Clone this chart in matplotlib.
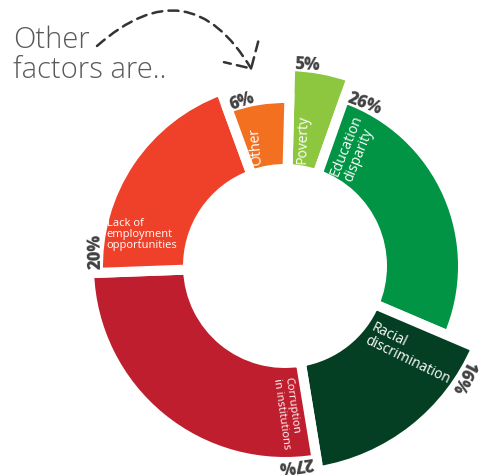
import numpy as np
import matplotlib.pyplot as plt
from matplotlib.patches import FancyArrowPatch

plt.rcParams['font.family'] = ['Open Sans', 'DejaVu Sans']

# data
categories = ['Poverty', 'Education\ndisparity', 'Racial\ndiscrimination',
              'Corruption\nin institutions', 'Lack of\nemployment\nopportunities', 'Other']
shares = [5, 26, 16, 27, 20, 6]

# styling / layout
colors = ['#8dc63f', '#009444', '#053f23', '#be1e2d', '#ef4129', '#f37021']
outer = [200, 178, 208, 196, 187, 168]   # outer radius of each piece (px)
inner = 97
start = 1.5                               # degrees clockwise from north

label_theta = [9.5, 33, 128.7, 181.5, 280, 344.5]
label_r = [104, 104, 108, 112, 181, 104]
label_rot = [88, 68, -26, -82, 0, 95]
label_size = [10, 10, 10, 8, 8, 10]
pct_shift = [1.2, 1.2, 4.0, 1.2, 1.2, 1.2]   # how far past the piece edge the % text starts

W, H = 480, 475
fig = plt.figure(figsize=(W / 100, H / 100), dpi=100)

# polar axes where one radial unit == one pixel
R = 230
cx, cy = 285, 266
ax = fig.add_axes([(cx - R) / W, (H - cy - R) / H, 2 * R / W, 2 * R / H], projection='polar')
ax.set_theta_zero_location('N')
ax.set_theta_direction(-1)
ax.set_ylim(0, R)
ax.set_axis_off()

vals = np.array(shares, dtype=float)
widths = vals / vals.sum() * 360
edges = start + np.concatenate([[0], np.cumsum(widths)[:-1]])
centers = edges + widths / 2

ax.bar(np.deg2rad(centers), np.array(outer) - inner, width=np.deg2rad(widths),
       bottom=inner, color=colors, edgecolor='white', linewidth=7.2)

# percentage labels along the outer rim
for e, top, v, s in zip(edges, outer, shares, pct_shift):
    th = e + s
    ax.text(np.deg2rad(th), top - 3, f'{v}%', rotation=-th, rotation_mode='anchor',
            ha='left', va='baseline', fontsize=12, fontweight='heavy', color='#414042')

# category labels inside the pieces
for name, th, r, rot, fs in zip(categories, label_theta, label_r, label_rot, label_size):
    ax.text(np.deg2rad(th), r, name, rotation=rot, rotation_mode='anchor',
            ha='left', va='center', fontsize=fs, color='white', linespacing=1.0)

# heading and dashed arrow
fig.text(13 / W, 1 - 78 / H, 'Other\nfactors are..', fontsize=21, color='#58595b',
         fontweight='light', linespacing=1.0, ha='left', va='baseline')

arrow = FancyArrowPatch((97 / W, 1 - 46 / H), (252 / W, 1 - 70 / H),
                        transform=fig.transFigure, connectionstyle='arc3,rad=-0.6',
                        arrowstyle='->,head_length=0.7,head_width=0.72', mutation_scale=20,
                        linestyle=(0, (4, 2.5)), linewidth=1.8, color='#333333',
                        shrinkA=0, shrinkB=0)
fig.add_artist(arrow)

fig.savefig('out.png', dpi=100)
